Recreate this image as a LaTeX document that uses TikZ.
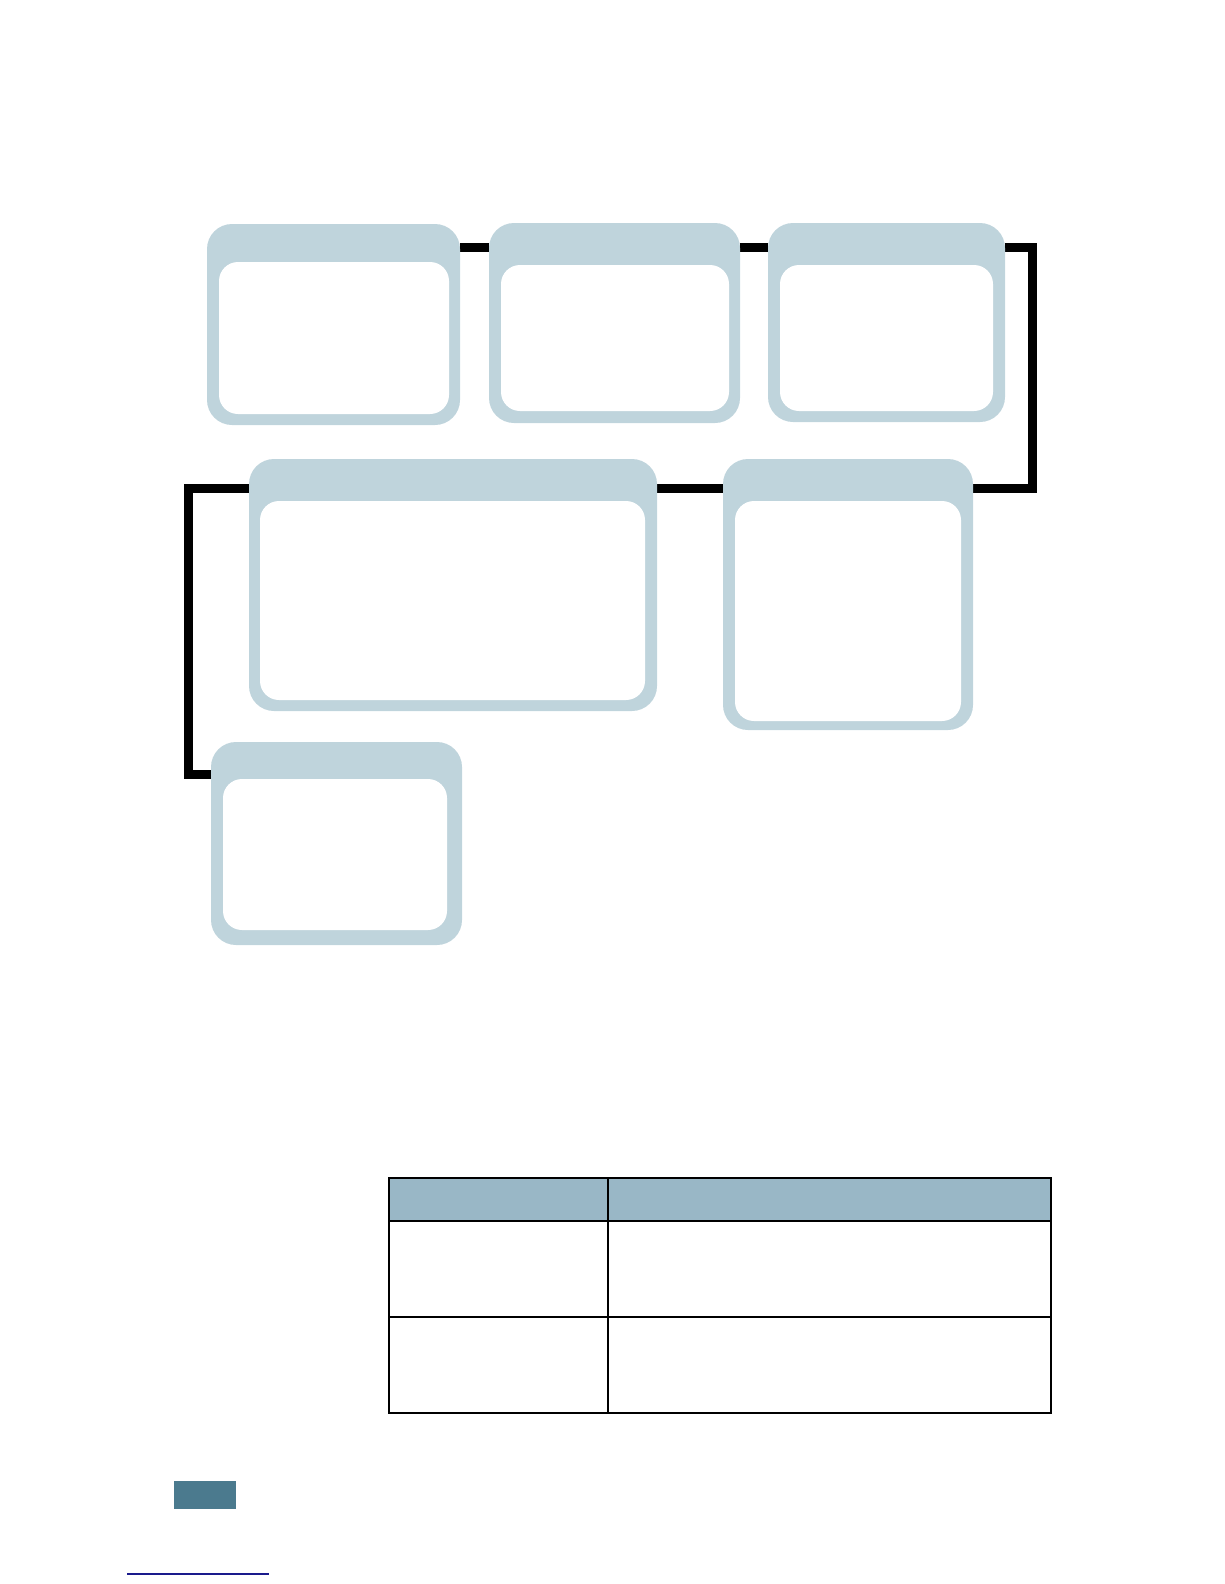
\documentclass[tikz,border=0pt]{standalone}
\usetikzlibrary{fit,backgrounds}
\definecolor{boxblue}{HTML}{BFD4DC}
\definecolor{headblue}{HTML}{99B7C6}
\definecolor{tabblue}{HTML}{4B7A8E}
\definecolor{linkblue}{HTML}{1A1A8C}
\tikzset{
  outerbox/.style={fill=boxblue, draw=none, rounded corners=25pt, inner sep=0pt},
  innerbox/.style={fill=white, draw=none, rounded corners=19pt, inner sep=0pt},
  conn/.style={draw=black, line width=9pt, line join=miter},
  tabline/.style={draw=black, line width=1.4pt},
}
\begin{document}
\begin{tikzpicture}[x=1pt,y=-1pt]
\useasboundingbox (0,0) rectangle (1224,1584);
% boxes
\node[outerbox, fit={(207,224) (460,425)}] (b1) {};
\node[innerbox, fit={(219,262) (449,414)}] (i1) {};
\node[outerbox, fit={(489,223) (740,423)}] (b2) {};
\node[innerbox, fit={(501,265) (729,411)}] (i2) {};
\node[outerbox, fit={(768,223) (1005,422)}] (b3) {};
\node[innerbox, fit={(780,265) (993,411)}] (i3) {};
\node[outerbox, fit={(249,459) (657,711)}] (b4) {};
\node[innerbox, fit={(260,501) (645,700)}] (i4) {};
\node[outerbox, fit={(723,459) (973,730)}] (b5) {};
\node[innerbox, fit={(735,501) (961,721)}] (i5) {};
\node[outerbox, fit={(211,742) (462,945)}] (b6) {};
\node[innerbox, fit={(223,779) (447,930)}] (i6) {};
% routing corners
\coordinate (r1) at (1032.5,247.5);
\coordinate (r2) at (1032.5,488);
\coordinate (l1) at (188.5,488);
\coordinate (l2) at (188.5,774);
\begin{scope}[on background layer]
\draw[conn] (b1.east |- r1) -- (b2.west |- r1);
\draw[conn] (b2.east |- r1) -- (b3.west |- r1);
\draw[conn] (b3.east |- r1) -- (r1) -- (r2) -- (b5.east |- r2);
\draw[conn] (b5.west |- r2) -- (b4.east |- r2);
\draw[conn] (b4.west |- l1) -- (l1) -- (l2) -- (b6.west |- l2);
\end{scope}
% table
\fill[headblue] (389,1178) rectangle (1051,1221);
\draw[tabline] (389,1178) rectangle (1051,1413);
\draw[tabline] (389,1221) -- (1051,1221);
\draw[tabline] (389,1317) -- (1051,1317);
\draw[tabline] (608,1178) -- (608,1413);
% page tab
\fill[tabblue] (174,1481) rectangle (236,1509);
% underline
\draw[linkblue, line width=1.2pt] (127,1574) -- (269,1574);
\end{tikzpicture}
\end{document}
